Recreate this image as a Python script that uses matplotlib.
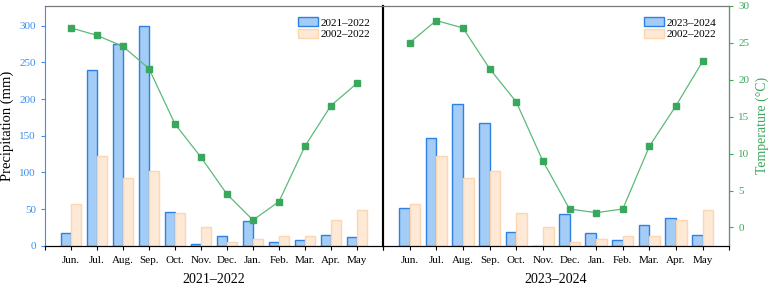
import matplotlib.pyplot as plt
import numpy as np

plt.rcParams['font.family'] = ['Liberation Serif', 'DejaVu Serif']

months = ["Jun.", "Jul.", "Aug.", "Sep.", "Oct.", "Nov.", "Dec.", "Jan.", "Feb.", "Mar.", "Apr.", "May"]

# precipitation (mm)
prec_2122 = [18, 239, 275, 299, 46, 2, 13, 34, 5, 8, 15, 12]
prec_2324 = [52, 147, 193, 168, 19.5, 0, 43, 17, 7.5, 28, 38, 14.5]
prec_clim = [57, 122, 92, 102, 45, 26, 6, 9, 14, 14, 35, 49]

# temperature (°C)
temp_2122 = [27, 26, 24.5, 21.5, 14, 9.5, 4.5, 1, 3.5, 11, 16.5, 19.5]
temp_2324 = [25, 28, 27, 21.5, 17, 9, 2.5, 2, 2.5, 11, 16.5, 22.5]

blue_face = "#a3cdf6"
blue_edge = "#2f80e4"
orange_face = "#fde9d6"
orange_edge = "#fbd6b0"
green = "#3aa85c"
green_line = "#5cba7a"
tick_blue = "#3b8ff0"

fig = plt.figure(figsize=(7.69, 2.89), dpi=100)
ax1 = fig.add_axes([0.0585, 0.149, 0.4395, 0.831])
ax2 = fig.add_axes([0.4980, 0.149, 0.4505, 0.831], sharey=ax1)

x = np.arange(len(months))
w = 0.4

panels = [(ax1, prec_2122, temp_2122, "2021\u20132022"),
          (ax2, prec_2324, temp_2324, "2023\u20132024")]

for ax, prec, temp, label in panels:
    ax.bar(x - w / 2, prec, w, color=blue_face, edgecolor=blue_edge, linewidth=1.0, label=label)
    ax.bar(x + w / 2, prec_clim, w, color=orange_face, edgecolor=orange_edge, linewidth=1.0, label="2002\u20132022")
    ax.set_xlim(-1, 12)
    ax.set_ylim(0, 327)
    ax.set_xticks(np.arange(-1, 13))
    ax.set_xticklabels([""] + months + [""], fontsize=8)
    ax.tick_params(axis="x", length=3, direction="out", pad=4)
    ax.set_xlabel(label, fontsize=10, labelpad=6)
    ax.spines["top"].set_color("#777777")
    ax.legend(loc="upper right", frameon=False, fontsize=8, handlelength=1.8, handleheight=0.9,
              handletextpad=0.25, labelspacing=0.12, borderaxespad=0.3,
              bbox_to_anchor=(0.985, 0.985))

    tax = ax.twinx()
    tax.plot(x, temp, color=green_line, linewidth=0.9, marker="s", markersize=4,
             markerfacecolor=green, markeredgecolor=green)
    tax.set_ylim(-2.5, 30)
    tax.set_xlim(-1, 12)
    tax.spines["left"].set_visible(False)
    if ax is ax1:
        tax.set_yticks([])
        tax.spines["right"].set_color("black")
        tax.spines["right"].set_linewidth(1.5)
    else:
        tax.set_yticks(np.arange(0, 31, 5))
        tax.tick_params(axis="y", colors=green, labelsize=8, length=3)
        tax.spines["right"].set_color(green)
        tax.set_ylabel("Temperature (\u00b0C)", color=green, fontsize=10)
    tax.spines["top"].set_color("#777777")

ax1.set_yticks(np.arange(0, 301, 50))
ax1.tick_params(axis="y", colors=tick_blue, labelsize=8, length=3)
ax1.spines["left"].set_color(tick_blue)
ax1.set_ylabel("Precipitation (mm)", fontsize=10.5)
ax1.spines["right"].set_visible(False)
ax2.tick_params(axis="y", left=False, labelleft=False)
ax2.spines["left"].set_color("black")
ax2.spines["left"].set_linewidth(1.5)

fig.savefig("out.png", dpi=100)
